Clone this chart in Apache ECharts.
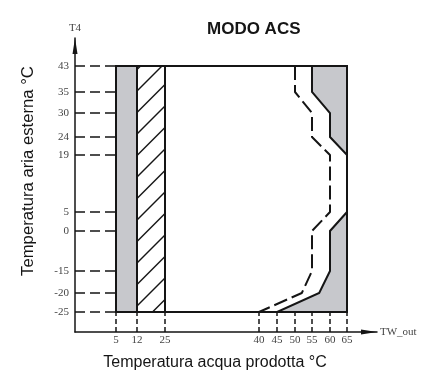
<!DOCTYPE html>
<html>
<head>
<meta charset="utf-8">
<script src="https://cdn.jsdelivr.net/npm/echarts@6/dist/echarts.min.js"></script>
<style>
  html, body { margin: 0; padding: 0; background: #fff; }
  #chart { width: 424px; height: 376px; }
</style>
</head>
<body>
<div id="chart"></div>
<script>
// tick values of the two axes (the diagram spaces them unevenly)
const xTicks = [5, 12, 25, 40, 45, 50, 55, 60, 65]
const yTicks = [43, 35, 30, 24, 19, 5, 0, -15, -20, -25]

// operating map, in degrees
const envX = [5, 65, 65, 5]
const envY = [-25, -25, 43, 43]
const greyBandX = [5, 12, 12, 5]
const hatchBandX = [12, 25, 25, 12]
const upperLimitX = [55, 55, 60, 60, 65, 65]
const upperLimitY = [43, 35, 30, 24, 19, 43]
const lowerLimitX = [65, 60, 60, 57, 45, 65]
const lowerLimitY = [5, 0, -15, -20, -25, -25]
const dashedX = [50, 50, 55, 55, 60, 60, 55, 55, 52, 40]
const dashedY = [43, 35, 30, 24, 19, 5, 0, -15, -20, -25]

// where each tick sits along its axis (px from the origin)
const xTickPx = [41, 62, 90, 184, 202, 220, 237, 255, 272]
const yTickPx = [266, 240, 219, 195, 177, 120, 101, 61, 39, 20]
const X_LEN = 302
const Y_LEN = 294

const GREY = '#c7c8cc'
const INK = '#151515'

// piecewise linear scale between the ticks
function warp (v, ticks, px) {
  const pairs = ticks.map((t, i) => [t, px[i]]).sort((a, b) => a[0] - b[0])
  for (let i = 0; i < pairs.length - 1; i++) {
    const [a, pa] = pairs[i]
    const [b, pb] = pairs[i + 1]
    if (v <= b || i === pairs.length - 2) {
      return pa + (v - a) / (b - a) * (pb - pa)
    }
  }
}
const wx = (v) => warp(v, xTicks, xTickPx)
const wy = (v) => warp(v, yTicks, yTickPx)

function polygon (xs, ys, style) {
  return {
    type: 'custom',
    coordinateSystem: 'cartesian2d',
    silent: true,
    data: [[0, 0]],
    renderItem: (params, api) => ({
      type: 'polygon',
      shape: { points: xs.map((x, i) => api.coord([wx(x), wy(ys[i])])) },
      style: style
    })
  }
}

// diagonal hatching inside the 12..25 band
const hatch = {
  type: 'custom',
  coordinateSystem: 'cartesian2d',
  silent: true,
  data: [[0, 0]],
  renderItem: (params, api) => {
    const p0 = api.coord([wx(hatchBandX[0]), wy(-25)])
    const p1 = api.coord([wx(hatchBandX[1]), wy(43)])
    const x0 = p0[0], yBot = p0[1], x1 = p1[0], yTop = p1[1]
    const step = 21.5
    const children = []
    for (let k = -20; k < 20; k++) {
      const c = yBot - 6 + k * step
      const xa = Math.max(x0, x0 + c - yBot)
      const xb = Math.min(x1, x0 + c - yTop)
      if (xb <= xa) continue
      children.push({
        type: 'line',
        shape: { x1: xa, y1: c - (xa - x0), x2: xb, y2: c - (xb - x0) },
        style: { stroke: INK, lineWidth: 1.5 }
      })
    }
    return { type: 'group', children: children }
  }
}

const tickLabel = (px, ticks) => (v) => {
  const i = px.indexOf(Math.round(v))
  return i < 0 ? '' : String(ticks[i])
}

const labelFont = { fontFamily: 'Liberation Serif', fontSize: 11, color: '#444' }

const chart = echarts.init(document.getElementById('chart'))
chart.setOption({
  animation: false,
  title: {
    text: 'MODO ACS',
    left: 207,
    top: 21,
    padding: 0,
    textStyle: { fontFamily: 'Liberation Sans', fontSize: 17, fontWeight: 'bold', color: INK }
  },
  grid: { left: 75, right: 47, top: 38, bottom: 44 },
  xAxis: {
    type: 'value',
    min: 0,
    max: X_LEN,
    name: 'TW_out',
    nameLocation: 'end',
    nameGap: 3,
    nameTextStyle: labelFont,
    splitLine: { show: false },
    axisLine: {
      onZero: false,
      symbol: ['none', 'triangle'],
      symbolSize: [5, 16],
      symbolOffset: [0, -8],
      lineStyle: { color: INK, width: 1.5 }
    },
    axisTick: {
      customValues: xTickPx,
      inside: true,
      length: 20,
      lineStyle: { color: INK, width: 1.5, type: [5, 3] }
    },
    axisLabel: Object.assign({
      customValues: xTickPx,
      margin: 3,
      formatter: tickLabel(xTickPx, xTicks)
    }, labelFont)
  },
  yAxis: {
    type: 'value',
    min: 0,
    max: Y_LEN,
    name: 'T4',
    nameLocation: 'end',
    nameGap: 4,
    nameTextStyle: labelFont,
    splitLine: { show: false },
    axisLine: {
      onZero: false,
      symbol: ['none', 'triangle'],
      symbolSize: [5, 16],
      symbolOffset: [0, -8],
      lineStyle: { color: INK, width: 1.5 }
    },
    axisTick: {
      customValues: yTickPx,
      inside: true,
      length: 41,
      lineStyle: { color: INK, width: 1.5, type: [10, 5] }
    },
    axisLabel: Object.assign({
      customValues: yTickPx,
      margin: 6,
      formatter: tickLabel(yTickPx, yTicks)
    }, labelFont)
  },
  graphic: [
    {
      type: 'text',
      x: 28,
      y: 171,
      rotation: Math.PI / 2,
      style: {
        text: 'Temperatura aria esterna °C',
        font: '16.7px "Liberation Sans"',
        fill: INK,
        align: 'center',
        verticalAlign: 'middle'
      }
    },
    {
      type: 'text',
      x: 215,
      y: 363,
      style: {
        text: 'Temperatura acqua prodotta °C',
        font: '16px "Liberation Sans"',
        fill: INK,
        align: 'center',
        verticalAlign: 'middle'
      }
    }
  ],
  series: [
    polygon(greyBandX, envY, { fill: GREY, stroke: INK, lineWidth: 2 }),
    hatch,
    polygon(hatchBandX, envY, { fill: 'none', stroke: INK, lineWidth: 2 }),
    polygon(upperLimitX, upperLimitY, { fill: GREY, stroke: INK, lineWidth: 2 }),
    polygon(lowerLimitX, lowerLimitY, { fill: GREY, stroke: INK, lineWidth: 2 }),
    polygon(envX, envY, { fill: 'none', stroke: INK, lineWidth: 2 }),
    {
      type: 'line',
      silent: true,
      symbol: 'none',
      data: dashedX.map((x, i) => [wx(x), wy(dashedY[i])]),
      lineStyle: { color: INK, width: 2, type: [14, 5] }
    }
  ]
})
</script>
</body>
</html>
